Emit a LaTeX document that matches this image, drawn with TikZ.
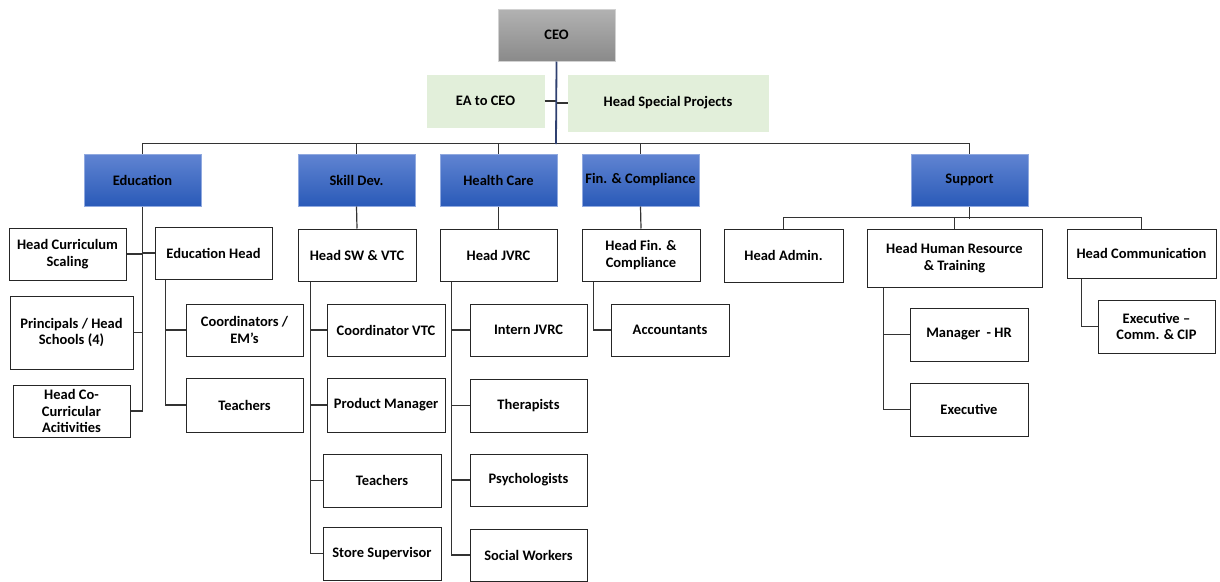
\documentclass[tikz,border=0pt]{standalone}
\usepackage{fontspec}
\setmainfont{Carlito}
\definecolor{ceotop}{RGB}{178,178,178}
\definecolor{ceobot}{RGB}{138,138,138}
\definecolor{unittop}{RGB}{96,132,210}
\definecolor{unitbot}{RGB}{42,90,184}
\definecolor{staffgreen}{RGB}{226,239,218}
\definecolor{trunkblue}{RGB}{47,64,112}
\tikzset{
  box/.style={draw=black!85, line width=1pt, fill=white, minimum width=117pt, minimum height=52pt,
    align=center, inner sep=1pt, font=\bfseries\fontsize{14.5}{16.5}\selectfont},
  unitbox/.style={box, draw=unittop!70, top color=unittop, bottom color=unitbot},
  ceobox/.style={box, draw=ceotop!60, top color=ceotop, bottom color=ceobot},
  staffbox/.style={box, draw=staffgreen, fill=staffgreen},
  link/.style={draw=black!80, line width=1.2pt},
  trunk/.style={draw=trunkblue, line width=1.8pt},
}
\begin{document}
\begin{tikzpicture}[x=1pt,y=-1pt]
\useasboundingbox (0,0) rectangle (1220,581);
% top level
\node[ceobox] (ceo) at (556.5,35) {CEO};
\node[staffbox] (ea) at (485.5,101) {EA to CEO};
\node[staffbox, minimum width=200pt, minimum height=56pt] (hsp) at (668,103) {Head Special Projects};
\coordinate (bus) at (556,144);
% units
\node[unitbox] (edu) at (142.5,180) {Education};
\node[unitbox] (skill) at (356.5,180) {Skill Dev.};
\node[unitbox] (health) at (498.5,180) {Health Care};
\node[unitbox] (fin) at (640.5,180) {Fin. \& Compliance};
\node[unitbox] (sup) at (969.5,180) {Support};
% education
\node[box] (hcs) at (67.5,254) {Head Curriculum\\Scaling};
\node[box] (eduhead) at (213.5,253) {Education Head};
\node[box, minimum width=123pt, minimum height=73pt] (princ) at (71.5,332.5) {Principals / Head\\Schools (4)};
\node[box] (headco) at (71.5,411) {Head Co-\\Curricular\\Acitivities};
\node[box] (coord) at (244.5,330) {Coordinators /\\EM’s};
\node[box, minimum height=54pt] (teachE) at (244.5,405) {Teachers};
% skill dev.
\node[box, minimum width=118pt] (headsw) at (357,255) {Head SW \& VTC};
\node[box, minimum width=118pt] (coordvtc) at (386,330) {Coordinator VTC};
\node[box, minimum width=118pt, minimum height=54pt] (prodmgr) at (386,405) {Product Manager};
\node[box, minimum width=118pt, minimum height=53pt] (teachS) at (382,480.5) {Teachers};
\node[box, minimum width=118pt, minimum height=53pt] (store) at (382,553.5) {Store Supervisor};
% health care
\node[box] (jvrc) at (498.5,255) {Head JVRC};
\node[box] (intern) at (528.5,330) {Intern JVRC};
\node[box, minimum height=53pt] (therap) at (528.5,405.5) {Therapists};
\node[box] (psych) at (528.5,480) {Psychologists};
\node[box] (social) at (528.5,555) {Social Workers};
% finance
\node[box, minimum width=118pt] (headfin) at (641,255) {Head Fin. \&\\Compliance};
\node[box, minimum width=118pt] (accts) at (670,330) {Accountants};
% support
\node[box, minimum width=119pt, minimum height=53pt] (admin) at (783.5,255.5) {Head Admin.};
\node[box, minimum width=175pt, minimum height=58pt] (hr) at (954.5,258) {Head Human Resource\\\& Training};
\node[box, minimum width=149pt, minimum height=49pt] (comm) at (1141.5,253.5) {Head Communication};
\node[box, minimum width=118pt, minimum height=53pt] (mgrhr) at (969,334.5) {Manager \ - HR};
\node[box, minimum width=118pt, minimum height=53pt] (exechr) at (969,409.5) {Executive};
\node[box, minimum height=53pt] (execcomm) at (1156.5,326.5) {Executive –\\Comm. \& CIP};
% connectors
\draw[link] (edu.north) -- ++(0,-10) -| (sup.north);
\draw[link] (skill.north) -- ++(0,-10);
\draw[link] (health.north) -- ++(0,-10);
\draw[link] (fin.north) -- ++(0,-10);
\draw[link] (ea.east) -- (ea.east -| bus);
\draw[link] (hsp.west) -- (hsp.west -| bus);
\draw[trunk] (ceo.south) -- (bus);
\draw[link] (edu.south) |- (headco.east);
\draw[link] (hcs.east) -- (hcs.east -| edu.south);
\draw[link] (eduhead.west) -- (eduhead.west -| edu.south);
\draw[link] (princ.east) -- (princ.east -| edu.south);
\draw[link] ([xshift=11pt]eduhead.south west) |- (teachE.west);
\draw[link] ([xshift=11pt]eduhead.south west) |- (coord.west);
\draw[link] (skill.south) -- (headsw.north);
\draw[link] ([xshift=13pt]headsw.south west) |- (store.west);
\draw[link] ([xshift=13pt]headsw.south west) |- (coordvtc.west);
\draw[link] ([xshift=13pt]headsw.south west) |- (prodmgr.west);
\draw[link] ([xshift=13pt]headsw.south west) |- (teachS.west);
\draw[link] (health.south) -- (jvrc.north);
\draw[link] ([xshift=12pt]jvrc.south west) |- (social.west);
\draw[link] ([xshift=12pt]jvrc.south west) |- (intern.west);
\draw[link] ([xshift=12pt]jvrc.south west) |- (therap.west);
\draw[link] ([xshift=12pt]jvrc.south west) |- (psych.west);
\draw[link] (fin.south) -- (headfin.north);
\draw[link] ([xshift=12pt]headfin.south west) |- (accts.west);
\draw[link] (sup.south) -- ++(0,12);
\draw[link] (admin.north) -- ++(0,-11) -| (comm.north);
\draw[link] (hr.north) -- ++(0,-11);
\draw[link] ([xshift=17pt]hr.south west) |- (exechr.west);
\draw[link] ([xshift=17pt]hr.south west) |- (mgrhr.west);
\draw[link] ([xshift=15pt]comm.south west) |- (execcomm.west);
\end{tikzpicture}
\end{document}
